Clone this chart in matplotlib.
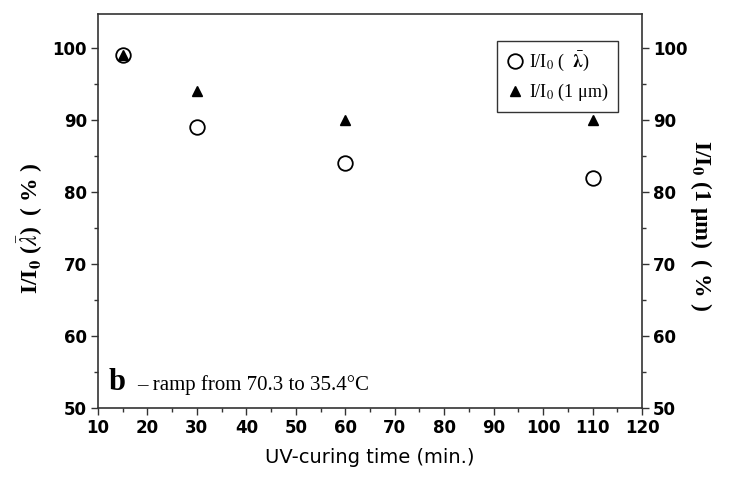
import numpy as np
import matplotlib
matplotlib.use("Agg")
import matplotlib.pyplot as plt
from matplotlib.ticker import MultipleLocator

# Datos
time_min = [15, 30, 60, 110]
ratio_lambda = [99, 89, 84, 82]
ratio_1um = [99, 94, 90, 90]

plt.rcParams['mathtext.fontset'] = 'stix'

fig = plt.figure(figsize=(7.29, 4.86), dpi=100)
ax = fig.add_axes([0.1344, 0.1605, 0.7463, 0.8107])

ax.plot(time_min, ratio_lambda, linestyle='none', marker='o', markersize=10.5,
        markerfacecolor='white', markeredgecolor='black', markeredgewidth=1.3,
        label=r'I/I$_0$ (  $\bar{\mathbf{\lambda}}$)')
ax.plot(time_min, ratio_1um, linestyle='none', marker='^', markersize=7,
        color='black', label='I/I$_0$ (1 \u03bcm)')

ax.set_xlim(10, 120)
ax.set_ylim(50, 104.7)
ax.xaxis.set_major_locator(MultipleLocator(10))
ax.xaxis.set_minor_locator(MultipleLocator(5))
ax.yaxis.set_major_locator(MultipleLocator(10))
ax.yaxis.set_minor_locator(MultipleLocator(5))
ax.tick_params(which='both', direction='out', color='#333333',
               right=True, labelright=True, labelsize=12, pad=3)
ax.tick_params(which='major', length=5, width=1)
ax.tick_params(which='minor', length=3, width=1)
for lbl in ax.get_xticklabels() + ax.get_yticklabels():
    lbl.set_fontweight('bold')
for s in ax.spines.values():
    s.set_color('#333333')
    s.set_linewidth(1.2)

ax.set_xlabel('UV-curing time (min.)', fontsize=14, labelpad=8)
# Etiquetas de los ejes Y (serif, negrita)
fig.text(0.042, 0.53, r'I/I$_\mathbf{0}$ ($\bar{\lambda}$)  ( % )', family='Liberation Serif',
         fontsize=17, fontweight='bold', rotation=90, ha='center', va='center')
fig.text(0.962, 0.535, 'I/I$_\\mathbf{0}$ (1 \u03bcm)  ( % )', family='Liberation Serif',
         fontsize=17, fontweight='bold', rotation=270, ha='center', va='center')

ax.text(0.02, 0.045, 'b', transform=ax.transAxes, family='Liberation Serif',
        fontsize=22, fontweight='bold')
ax.text(0.072, 0.045, '\u2013 ramp from 70.3 to 35.4\u00b0C', transform=ax.transAxes,
        family='Liberation Serif', fontsize=15)

leg = ax.legend(loc='upper right', bbox_to_anchor=(0.972, 0.955), frameon=True,
                fancybox=False, edgecolor='black', handletextpad=0.3,
                handlelength=1.0, borderpad=0.5, labelspacing=0.5,
                prop={'family': 'Liberation Serif', 'size': 13})
leg.get_frame().set_linewidth(1.0)

fig.savefig('out.png', dpi=100)
